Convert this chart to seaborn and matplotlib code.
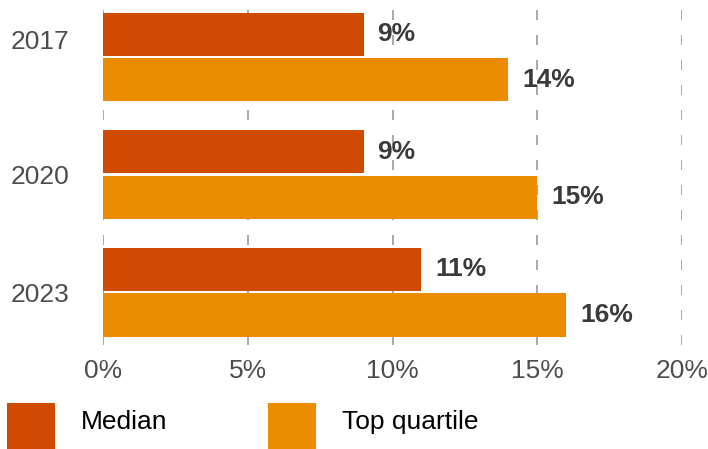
import matplotlib
matplotlib.use("Agg")
import matplotlib.pyplot as plt
import matplotlib.transforms as mtransforms
import seaborn as sns
import pandas as pd
from matplotlib.patches import Rectangle

years = ["2017", "2020", "2023"]
series_names = ["Median", "Top quartile"]
median_vals = [9, 9, 11]
top_quartile_vals = [14, 15, 16]
x_ticks = [0, 5, 10, 15, 20]
colors = ["#D04A02", "#EB8C00"]

rows = []
for y, m, t in zip(years, median_vals, top_quartile_vals):
    rows.append({"year": y, "series": series_names[0], "value": m})
    rows.append({"year": y, "series": series_names[1], "value": t})
df = pd.DataFrame(rows)

sns.set_style("white")
plt.rcParams["font.family"] = ["Liberation Sans", "DejaVu Sans"]

W, H = 708, 449
fig = plt.figure(figsize=(W / 100, H / 100), dpi=100)
ax = fig.add_axes([103 / W, 104 / H, 579 / W, 345 / H])

sns.barplot(data=df, y="year", x="value", hue="series", orient="h",
            palette=colors, width=0.78, gap=0.06, saturation=1,
            linewidth=0, legend=False, ax=ax, zorder=3)

for cont in ax.containers:
    vals = [b.get_width() for b in cont]
    ax.bar_label(cont, labels=[f"{int(v)}%" for v in vals], padding=10,
                 fontsize=19, fontweight="bold", color="#3a3a3a")

ax.set_xlim(0, 20)
ax.set_ylim(2.45, -0.485)
ax.set_xticks(x_ticks)
ax.set_xticklabels([f"{v}%" for v in x_ticks])
ax.set_xlabel("")
ax.set_ylabel("")
for s in ax.spines.values():
    s.set_visible(False)
ax.grid(False)
for xv in x_ticks:
    ax.axvline(xv, color="#9a9a9a", linewidth=1.2, dashes=(6, 9), zorder=1)
ax.tick_params(axis="both", length=0, labelsize=19, colors="#4d4d4d")
ax.tick_params(axis="x", pad=10)
ax.tick_params(axis="y", pad=24)

# the first year label sits higher in the reference
first = ax.get_yticklabels()[0]
first.set_transform(first.get_transform() +
                    mtransforms.ScaledTranslation(0, 18 / 100, fig.dpi_scale_trans))

# legend (figure pixel coordinates, origin top-left)
def px_rect(x0, y0, x1, y1, color):
    fig.add_artist(Rectangle((x0 / W, 1 - y1 / H), (x1 - x0) / W, (y1 - y0) / H,
                             transform=fig.transFigure, facecolor=color,
                             edgecolor="none"))

legend_boxes = [(7, 55), (268, 316)]
legend_text_x = [81, 342]
for (x0, x1), tx, name, c in zip(legend_boxes, legend_text_x, series_names, colors):
    px_rect(x0, 403, x1, 449, c)
    fig.text(tx / W, 1 - 422 / H, name, fontsize=19, color="black",
             ha="left", va="center")

fig.savefig("out.png", dpi=100)
